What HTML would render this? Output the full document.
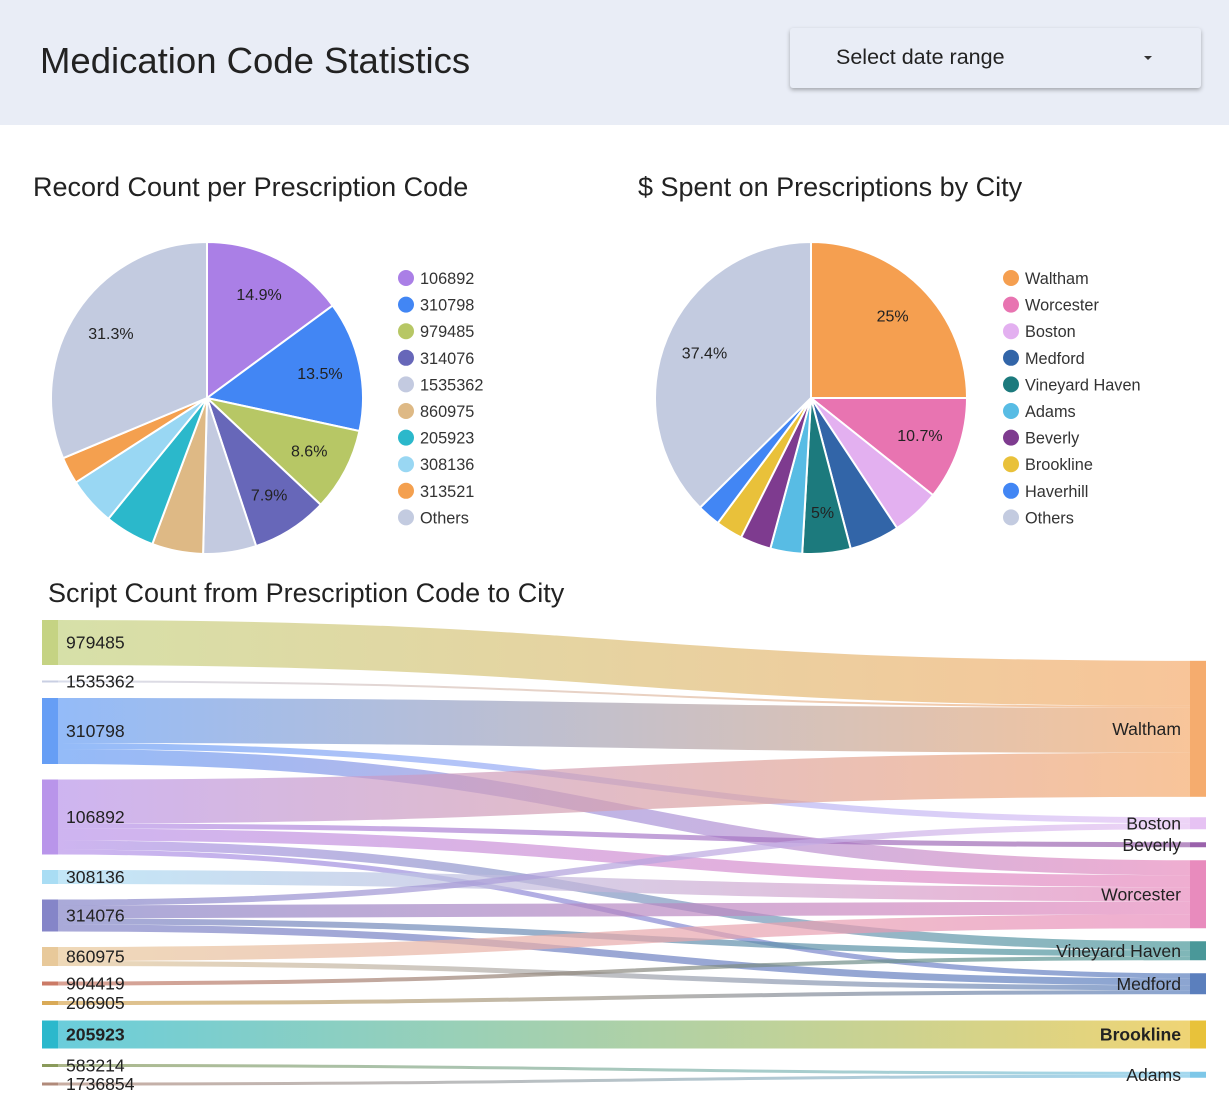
<!DOCTYPE html>
<html><head><meta charset="utf-8">
<style>
body{margin:0;width:1229px;height:1110px;background:#fff;font-family:"Liberation Sans",sans-serif;color:#222;overflow:hidden;position:relative}
#hdr{position:absolute;left:0;top:0;width:1229px;height:125px;background:#e9edf6}
#title{position:absolute;left:40px;top:40px;font-size:36.5px;color:#222}
#dd{position:absolute;left:790px;top:28px;width:411px;height:60px;background:#e9edf6;border-radius:3px;box-shadow:0 2px 4px rgba(0,0,0,0.3)}
#dd span{position:absolute;left:46px;top:17px;font-size:21.5px}
#dd i{position:absolute;left:354px;top:28px;width:0;height:0;border-left:4px solid transparent;border-right:4px solid transparent;border-top:4px solid #333}
.st{position:absolute;font-size:27px;color:#222}
svg{position:absolute;left:0;top:0}
</style></head><body>
<div id="hdr">
<div id="title">Medication Code Statistics</div>
<div id="dd"><span>Select date range</span><i></i></div>
</div>
<div class="st" style="left:33px;top:172px">Record Count per Prescription Code</div>
<div class="st" style="left:638px;top:172px">$ Spent on Prescriptions by City</div>
<div class="st" style="left:48px;top:578px">Script Count from Prescription Code to City</div>
<svg id="chart" width="1229" height="1110"></svg>
<script>
const codeCats=["106892","310798","979485","314076","1535362","860975","205923","308136","313521","Others"];
const codeVals=[14.9,13.5,8.6,7.9,5.5,5.3,5.2,5.0,2.8,31.3];
const codeShow=[1,1,1,1,0,0,0,0,0,1];
const codeColors=["#aa7fe6","#4286f4","#b7c765","#6767b9","#c3cae0","#deb985","#2bb8cb","#99d7f3","#f4a04f","#c3cbe0"];
const cityCats=["Waltham","Worcester","Boston","Medford","Vineyard Haven","Adams","Beverly","Brookline","Haverhill","Others"];
const cityVals=[25,10.7,5.0,5.2,5.0,3.3,3.2,2.8,2.4,37.4];
const cityShow=[1,1,0,0,1,0,0,0,0,1];
const cityColors=["#f59f50","#e874b1","#e3b0f0","#3265a8","#1c7a7d","#58bce4","#7e3b8f","#e9c13a","#4286f4","#c3cbe0"];

const leftNodes=["979485","1535362","310798","106892","308136","314076","860975","904419","206905","205923","583214","1736854"];
const leftColors=["#c5d383","#c9cfe3","#669ef5","#b995ea","#a9ddf4","#8585c8","#e8c99a","#cb7a66","#d9aa57","#2bb8cc","#8a9a5b","#b08a7a"];
const rightNodes=["Waltham","Boston","Beverly","Worcester","Vineyard Haven","Medford","Brookline","Adams"];
const rightColors=["#f5ac6e","#e6c2f3","#9a62ab","#e88bbd","#4a9899","#5b7fbd","#e8c23a","#7dc7e8"];
const linkSrc=["979485","1535362","310798","310798","310798","106892","106892","106892","106892","106892","308136","314076","314076","314076","314076","860975","860975","904419","206905","205923","583214","1736854"];
const linkTgt=["Waltham","Waltham","Waltham","Boston","Worcester","Waltham","Beverly","Worcester","Vineyard Haven","Medford","Worcester","Boston","Worcester","Vineyard Haven","Medford","Worcester","Medford","Vineyard Haven","Medford","Brookline","Adams","Adams"];
const linkVal=[45,2,45,6,15,44,5,12,9,5,14,6,13,6,7,14,5,4,4,28,3,3];

const NS="http://www.w3.org/2000/svg";
const svg=document.getElementById('chart');
function mk(t,a,p){const e=document.createElementNS(NS,t);for(const k in a)e.setAttribute(k,a[k]);(p||svg).appendChild(e);return e;}

function pie(cx,cy,r,cats,vals,show,colors,lx,name){
  const g=mk('g',{});
  
  
  const tot=vals.reduce((a,b)=>a+b,0);let a0=0;
  vals.forEach((v,i)=>{
    const a1=a0+v/tot*2*Math.PI;
    const x0=cx+r*Math.sin(a0),y0=cy-r*Math.cos(a0),x1=cx+r*Math.sin(a1),y1=cy-r*Math.cos(a1);
    const p=mk('path',{d:`M${cx},${cy}L${x0},${y0}A${r},${r} 0 ${a1-a0>Math.PI?1:0} 1 ${x1},${y1}Z`,fill:colors[i],stroke:'#fff','stroke-width':2},g);
    
    
    if(show[i]){const am=(a0+a1)/2;const t=mk('text',{x:cx+r*0.74*Math.sin(am),y:cy-r*0.74*Math.cos(am)+5,'text-anchor':'middle','font-size':16,fill:'#222'},g);t.textContent=v+'%';
      }
    a0=a1;
  });
  cats.forEach((c,i)=>{
    const y=278+i*26.6;
    const m=mk('circle',{cx:lx,cy:y,r:8,fill:colors[i]});
    
    const t=mk('text',{x:lx+14,y:y+6,'font-size':16.3,fill:'#333'});t.textContent=c;
    
  });
}
pie(207,398,156,codeCats,codeVals,codeShow,codeColors,406,'code');
pie(811,398,156,cityCats,cityVals,cityShow,cityColors,1011,'city');

const X0=42,X1=1190,NW=16,PAD=15.5,PADR=13,TOP=620,BOT=1085;
const sum=(n,key)=>linkVal.reduce((s,v,i)=>s+((key==='s'?linkSrc[i]:linkTgt[i])===n?v:0),0);
const L={},R={};let y=TOP;
leftNodes.forEach((n,i)=>{const h=sum(n,'s');L[n]={y:y,h:h,o:0};y+=h+PAD;});
rightNodes.forEach(n=>{let w=0,s=0;linkTgt.forEach((t,i)=>{if(t===n){const l=L[linkSrc[i]];s+=(l.y+l.h/2)*linkVal[i];w+=linkVal[i];}});const h=sum(n,'t');R[n]={y:s/w-h/2,h:h,o:0};});
let yy=TOP;rightNodes.forEach(n=>{if(R[n].y<yy)R[n].y=yy;yy=R[n].y+R[n].h+PADR;});
let yb=BOT;for(let k=rightNodes.length-1;k>=0;k--){const n=rightNodes[k];if(R[n].y+R[n].h>yb)R[n].y=yb-R[n].h;yb=R[n].y-PADR;}
const defs=mk('defs',{});
const idx=linkVal.map((v,i)=>i);
const sOrd=[...idx].sort((a,b)=>leftNodes.indexOf(linkSrc[a])-leftNodes.indexOf(linkSrc[b])||rightNodes.indexOf(linkTgt[a])-rightNodes.indexOf(linkTgt[b]));
const sy={},ty={};
sOrd.forEach(i=>{const l=L[linkSrc[i]];sy[i]=l.y+l.o;l.o+=linkVal[i];});
const tOrd=[...idx].sort((a,b)=>rightNodes.indexOf(linkTgt[a])-rightNodes.indexOf(linkTgt[b])||leftNodes.indexOf(linkSrc[a])-leftNodes.indexOf(linkSrc[b]));
tOrd.forEach(i=>{const r=R[linkTgt[i]];ty[i]=r.y+r.o;r.o+=linkVal[i];});
const lg=mk('g',{});
idx.forEach(i=>{
  const gid='g'+i;
  const a=X0+NW,b=X1;
  const gr=mk('linearGradient',{id:gid,gradientUnits:'userSpaceOnUse',x1:a,x2:b,y1:0,y2:0},defs);
  mk('stop',{offset:0,'stop-color':leftColors[leftNodes.indexOf(linkSrc[i])]},gr);
  mk('stop',{offset:1,'stop-color':rightColors[rightNodes.indexOf(linkTgt[i])]},gr);
  const v=linkVal[i],ym0=sy[i]+v/2,ym1=ty[i]+v/2,mx=(a+b)/2;
  const p=mk('path',{d:`M${a},${ym0}C${mx},${ym0} ${mx},${ym1} ${b},${ym1}`,fill:'none',stroke:`url(#${gid})`,'stroke-width':Math.max(v,1.5),'stroke-opacity':0.7},lg);
  
  
});
leftNodes.forEach((n,i)=>{const l=L[n];
  const r=mk('rect',{x:X0,y:l.y,width:NW,height:Math.max(l.h,2),fill:leftColors[i]});
  
  const t=mk('text',{x:X0+24,y:l.y+l.h/2+6,'font-size':17.6,fill:'#222','font-weight':n==='205923'?'bold':'normal'});t.textContent=n;
  
});
rightNodes.forEach((n,i)=>{const r0=R[n];
  const r=mk('rect',{x:X1,y:r0.y,width:NW,height:Math.max(r0.h,2),fill:rightColors[i]});
  
  const t=mk('text',{x:X1-9,y:r0.y+r0.h/2+6,'text-anchor':'end','font-size':17.6,fill:'#222','font-weight':n==='Brookline'?'bold':'normal'});t.textContent=n;
  
});
</script>
</body></html>
